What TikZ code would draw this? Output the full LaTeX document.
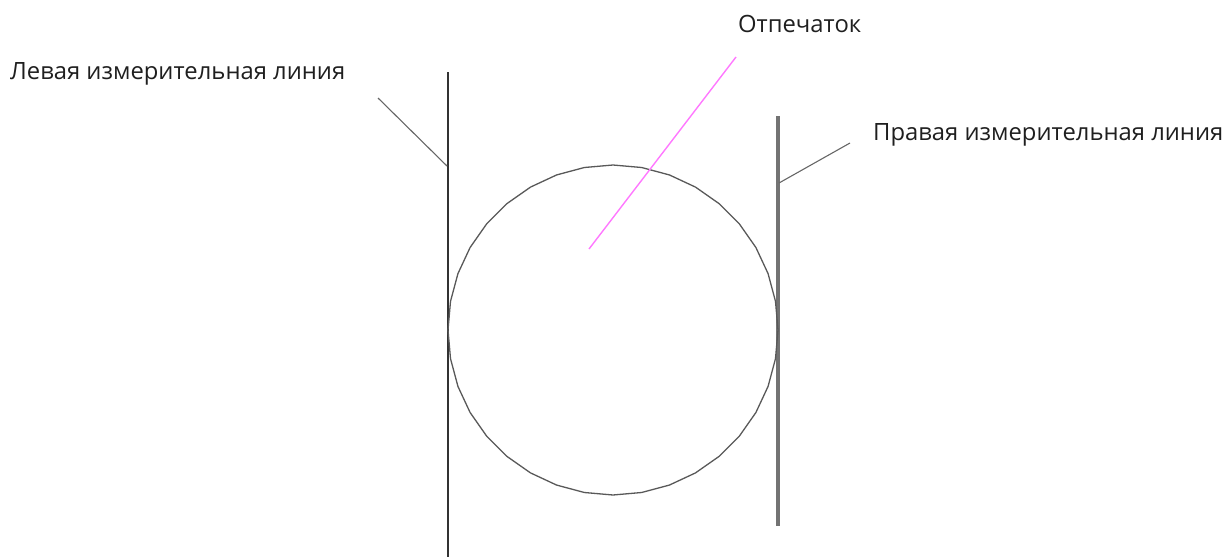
\documentclass[tikz,border=0pt]{standalone}
\usepackage{fontspec}
\setmainfont{Open Sans}
\definecolor{printmag}{RGB}{255,120,255}
\begin{document}
\begin{tikzpicture}[x=1pt,y=-1pt,
  lbl/.style={inner sep=0pt,font=\fontsize{23.8}{28}\selectfont,text=black!88},
  leader/.style={draw=black!60,line width=1.1pt}]
\useasboundingbox (0,0) rectangle (1229,557);
% measurement lines
\coordinate (Ltop) at (448,72);
\coordinate (Lbot) at (448,557);
\coordinate (Rtop) at (778,116);
\coordinate (Rbot) at (778,526);
\draw[draw=black!80,line width=2.6pt] (Ltop) -- (Lbot);
\draw[draw=black!55,line width=3.6pt] (Rtop) -- (Rbot);
% circle (polygon)
\coordinate (C) at (613,330);
\draw[draw=black!65,line width=1.3pt,line join=round]
  plot[samples=37,domain=0:360] ({613+165*cos(\x)},{330+165*sin(\x)}) -- cycle;
% labels
\node[lbl,anchor=west] (lt) at (10,74) {Левая измерительная линия};
\node[lbl,anchor=west] (rt) at (873,135) {Правая измерительная линия};
\node[lbl,anchor=west] (ot) at (738,24) {Отпечаток};
% leaders
\coordinate (la) at (378,98);
\coordinate (lb) at (447,166);
\coordinate (ra) at (779,183);
\coordinate (rb) at (850,143);
\coordinate (ma) at (589,249);
\coordinate (mb) at (736,57);
\draw[leader] (la) -- (lb);
\draw[leader] (ra) -- (rb);
\draw[draw=printmag,line width=1.4pt] (ma) -- (mb);
\end{tikzpicture}
\end{document}
